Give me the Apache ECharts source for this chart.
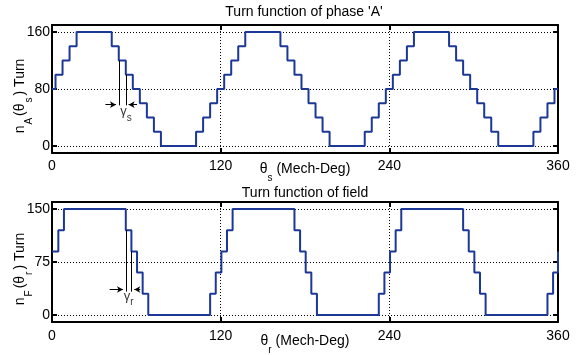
<!DOCTYPE html>
<html><head><meta charset="utf-8">
<script src="https://cdn.jsdelivr.net/npm/echarts@6/dist/echarts.min.js"></script>
<style>html,body{margin:0;padding:0;background:#fff;}#c{width:581px;height:355px;}</style>
</head><body><div id="c"></div>
<script>
// ---- data ----
const xTicks = [0, 120, 240, 360];
const phaseTicks = [0, 80, 160];
const fieldTicks = [0, 75, 150];

// stator turn function of phase 'A': angle where a level starts, and that level
const phaseEdges = [0, 2.5, 7.5, 12.5, 17.5, 42.5, 47.5, 52.5, 57.5, 62.5, 67.5, 72.5, 77.5,
  102.5, 107.5, 112.5, 117.5, 122.5, 127.5, 132.5, 137.5, 162.5, 167.5, 172.5, 177.5, 182.5, 187.5, 192.5, 197.5,
  222.5, 227.5, 232.5, 237.5, 242.5, 247.5, 252.5, 257.5, 282.5, 287.5, 292.5, 297.5, 302.5, 307.5, 312.5, 317.5,
  342.5, 347.5, 352.5, 357.5, 360];
const phaseLevels = [80, 100, 120, 140, 160, 140, 120, 100, 80, 60, 40, 20, 0,
  20, 40, 60, 80, 100, 120, 140, 160, 140, 120, 100, 80, 60, 40, 20, 0,
  20, 40, 60, 80, 100, 120, 140, 160, 140, 120, 100, 80, 60, 40, 20, 0,
  20, 40, 60, 80, 80];

// field turn function
const fieldEdges = [0, 4.5, 8.5, 52.5, 56.5, 60.5, 64.5, 68.5,
  112.5, 116.5, 120.5, 124.5, 128.5, 172.5, 176.5, 180.5, 184.5, 188.5,
  232.5, 236.5, 240.5, 244.5, 248.5, 292.5, 296.5, 300.5, 304.5, 308.5,
  352.5, 356.5, 360];
const fieldLevels = [90, 120, 150, 120, 90, 60, 30, 0,
  30, 60, 90, 120, 150, 120, 90, 60, 30, 0,
  30, 60, 90, 120, 150, 120, 90, 60, 30, 0,
  30, 60, 90];

// annotations (data coordinates)
const gammaSGuides = [[47.5, 120, 57], [52.5, 100, 57]];   // x, from y, to y
const gammaSArrows = [[38, 45.5, 58], [60.5, 54.5, 58]];    // from x, to x, y
const gammaSText = [52.6, 48];
const gammaRGuides = [[52.5, 120, 33], [56.5, 90, 33]];
const gammaRArrows = [[41, 50.5, 36], [62.8, 58.5, 36]];
const gammaRText = [54.6, 26];

const titles = ["Turn function of phase 'A'", "Turn function of field"];

// ---- chart ----
const FONT = "'Liberation Sans', Arial, Helvetica, sans-serif";
const BLUE = '#1c3896';
const pairs = (xs, ys) => xs.map((x, i) => [x, ys[i]]);

const richName = {
  t: { fontSize: 14, fontFamily: FONT, color: '#000', lineHeight: 28 },
  sub: { fontSize: 10, fontFamily: FONT, color: '#000', lineHeight: 10, verticalAlign: 'bottom' }
};
const richYName = {
  t: { fontSize: 14, fontFamily: FONT, color: '#000', lineHeight: 28 },
  sub: { fontSize: 10, fontFamily: FONT, color: '#000', lineHeight: 10, verticalAlign: 'bottom', padding: [0, 2, 0, 1] }
};
const richGamma = {
  g: { fontSize: 13, fontFamily: FONT, color: '#000', lineHeight: 22 },
  sub: { fontSize: 10, fontFamily: FONT, color: '#000', lineHeight: 10, verticalAlign: 'bottom' }
};

const lineBlack = { color: '#000', width: 2 };
const dotted = { color: '#000', width: 1, type: [1, 2] };

function xAxes(grid, name, labelMargin, nameGap) {
  return [
    { gridIndex: grid, type: 'value', min: 0, max: 360, interval: 120, position: 'bottom',
      axisLine: { onZero: false, lineStyle: lineBlack },
      axisTick: { inside: true, length: 5, lineStyle: lineBlack },
      axisLabel: { margin: labelMargin, color: '#000', fontSize: 14, fontFamily: FONT },
      splitLine: { show: true, lineStyle: dotted },
      name: name, nameLocation: 'middle', nameGap: nameGap, nameMoveOverlap: false,
      nameTextStyle: { rich: richName } },
    { gridIndex: grid, type: 'value', min: 0, max: 360, interval: 120, position: 'top',
      axisLine: { onZero: false, lineStyle: lineBlack },
      axisTick: { inside: true, length: 5, lineStyle: lineBlack },
      axisLabel: { show: false }, splitLine: { show: false } }
  ];
}
function yAxes(grid, min, max, ticks, name) {
  return [
    { gridIndex: grid, type: 'value', min: min, max: max, position: 'left',
      axisLine: { onZero: false, lineStyle: lineBlack },
      axisTick: { inside: true, length: 5, lineStyle: lineBlack, customValues: ticks },
      axisLabel: { margin: 2, color: '#000', fontSize: 14, fontFamily: FONT, customValues: ticks },
      splitLine: { show: true, lineStyle: dotted },
      name: name, nameLocation: 'middle', nameGap: 18, nameRotate: 90, nameMoveOverlap: false,
      nameTextStyle: { rich: richYName, padding: [0, 14, 0, 0] } },
    { gridIndex: grid, type: 'value', min: min, max: max, position: 'right',
      axisLine: { onZero: false, lineStyle: lineBlack },
      axisTick: { inside: true, length: 5, lineStyle: lineBlack, customValues: ticks },
      axisLabel: { show: false }, splitLine: { show: false } }
  ];
}

function annotation(guides, arrows) {
  const data = [];
  guides.forEach(g => data.push([{ coord: [g[0], g[1]], symbol: 'none' }, { coord: [g[0], g[2]], symbol: 'none' }]));
  arrows.forEach(a => data.push([{ coord: [a[0], a[2]], symbol: 'none' }, { coord: [a[1], a[2]], symbol: 'arrow', symbolSize: [5, 6] }]));
  return { silent: true, animation: false, symbol: ['none', 'none'], label: { show: false },
    lineStyle: { color: '#000', width: 1, type: 'solid' }, emphasis: { disabled: true }, data };
}
function gammaLabel(xi, yi, pos, subChar) {
  return { type: 'scatter', xAxisIndex: xi, yAxisIndex: yi, data: [pos], symbolSize: 1,
    itemStyle: { color: 'rgba(0,0,0,0)' }, silent: true, animation: false,
    label: { show: true, position: 'inside', formatter: '{g|γ}{sub|' + subChar + '}', rich: richGamma } };
}

const chart = echarts.init(document.getElementById('c'), null, { renderer: 'canvas' });
chart.setOption({
  animation: false,
  backgroundColor: '#fff',
  title: [
    { text: titles[0], left: 304, top: 5, textAlign: 'center', padding: 0,
      textStyle: { fontSize: 14, fontWeight: 'normal', color: '#000', fontFamily: FONT } },
    { text: titles[1], left: 305, top: 186, textAlign: 'center', padding: 0,
      textStyle: { fontSize: 14, fontWeight: 'normal', color: '#000', fontFamily: FONT } }
  ],
  grid: [
    { left: 52, right: 23, top: 25, height: 128, outerBoundsMode: 'none', containLabel: false },
    { left: 52, right: 23, top: 202, height: 120, outerBoundsMode: 'none', containLabel: false }
  ],
  xAxis: [...xAxes(0, '{t|θ}{sub|s}{t| (Mech-Deg)}', 6, 2), ...xAxes(1, '{t|θ}{sub|r}{t| (Mech-Deg)}', 7, 5)],
  yAxis: [...yAxes(0, -10, 170, phaseTicks, '{t|n}{sub|A}{t|(θ}{sub|s}{t|) Turn}'),
          ...yAxes(1, -10, 160, fieldTicks, '{t|n}{sub|F}{t|(θ}{sub|r}{t|) Turn}')],
  series: [
    { type: 'line', xAxisIndex: 0, yAxisIndex: 0, data: pairs(phaseEdges, phaseLevels), step: 'end',
      symbol: 'none', lineStyle: { color: BLUE, width: 2 }, silent: true,
      markLine: annotation(gammaSGuides, gammaSArrows) },
    { type: 'line', xAxisIndex: 2, yAxisIndex: 2, data: pairs(fieldEdges, fieldLevels), step: 'end',
      symbol: 'none', lineStyle: { color: BLUE, width: 2 }, silent: true,
      markLine: annotation(gammaRGuides, gammaRArrows) },
    gammaLabel(0, 0, gammaSText, 's'),
    gammaLabel(2, 2, gammaRText, 'r')
  ]
});
</script></body></html>
